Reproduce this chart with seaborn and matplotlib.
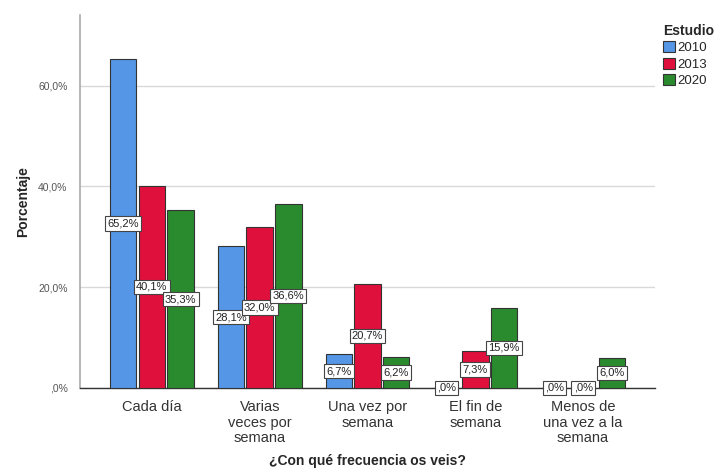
import numpy as np
import pandas as pd
import matplotlib
matplotlib.use('Agg')
import matplotlib.pyplot as plt
import seaborn as sns
from matplotlib.ticker import FuncFormatter

categorias = ["Cada día", "Varias\nveces por\nsemana", "Una vez por\nsemana",
              "El fin de\nsemana", "Menos de\nuna vez a la\nsemana"]
estudios = ["2010", "2013", "2020"]
pct_2010 = [65.2, 28.1, 6.7, 0.0, 0.0]
pct_2013 = [40.1, 32.0, 20.7, 7.3, 0.0]
pct_2020 = [35.3, 36.6, 6.2, 15.9, 6.0]
colores = ["#5596E6", "#E0103C", "#2A8A2E"]

df = pd.DataFrame({
    "cat": categorias * 3,
    "Estudio": np.repeat(estudios, len(categorias)),
    "pct": pct_2010 + pct_2013 + pct_2020,
})

sns.set_style("white")
plt.rcParams['font.family'] = ['Liberation Sans', 'DejaVu Sans']

fig = plt.figure(figsize=(7.24, 4.70), dpi=100)
ax = fig.add_axes([0.1105, 0.1745, 0.7942, 0.7935])

sns.barplot(data=df, x="cat", y="pct", hue="Estudio", palette=colores, saturation=1,
            width=0.8, gap=0.08, edgecolor="#333333", linewidth=0.8,
            errorbar=None, ax=ax, zorder=3)

# etiquetas en el centro de cada barra (estilo SPSS)
for cont in ax.containers:
    for bar in cont:
        h = bar.get_height()
        x = bar.get_x() + bar.get_width() / 2
        txt = f"{h:.1f}%".replace(".", ",")
        if txt.startswith("0,"):
            txt = txt[1:]
        ax.text(x, h / 2, txt, ha="center", va="center", fontsize=8, color="#222222",
                zorder=5, bbox=dict(boxstyle="square,pad=0.2", fc="white", ec="#444444", lw=0.8))

ax.set_xlim(-0.667, 4.667)
ax.set_ylim(0, 74)
ax.set_yticks([0, 20, 40, 60])
ax.yaxis.set_major_formatter(FuncFormatter(lambda v, p: ",0%" if v == 0 else f"{v:.1f}%".replace(".", ",")))
ax.grid(axis="y", color="#d9d9d9", linewidth=1, zorder=0)
ax.tick_params(axis="y", labelsize=7.5, labelcolor="#555555", length=0, pad=9)
ax.tick_params(axis="x", labelsize=10.5, labelcolor="#333333", length=0, pad=9)
for lbl in ax.get_xticklabels():
    lbl.set_linespacing(1.1)

for s in ["top", "right"]:
    ax.spines[s].set_visible(False)
ax.spines["left"].set_color("#aaaaaa")
ax.spines["bottom"].set_color("#333333")
ax.spines["left"].set_linewidth(1.2)
ax.spines["bottom"].set_linewidth(1.0)

ax.set_ylabel("Porcentaje", fontsize=10, fontweight="bold", labelpad=6)
ax.set_xlabel("¿Con qué frecuencia os veis?", fontsize=10, fontweight="bold")
ax.xaxis.set_label_coords(0.5, -0.178)

leg = ax.legend(title="Estudio", loc="upper left", bbox_to_anchor=(1.005, 0.99),
                frameon=False, fontsize=9.5, title_fontproperties={"weight": "bold", "size": 10},
                handlelength=0.9, handleheight=0.9, handletextpad=0.2, labelspacing=0.25,
                alignment="left", borderaxespad=0)
for h in leg.legend_handles:
    h.set_edgecolor("#333333")

fig.savefig("out.png", dpi=100)
